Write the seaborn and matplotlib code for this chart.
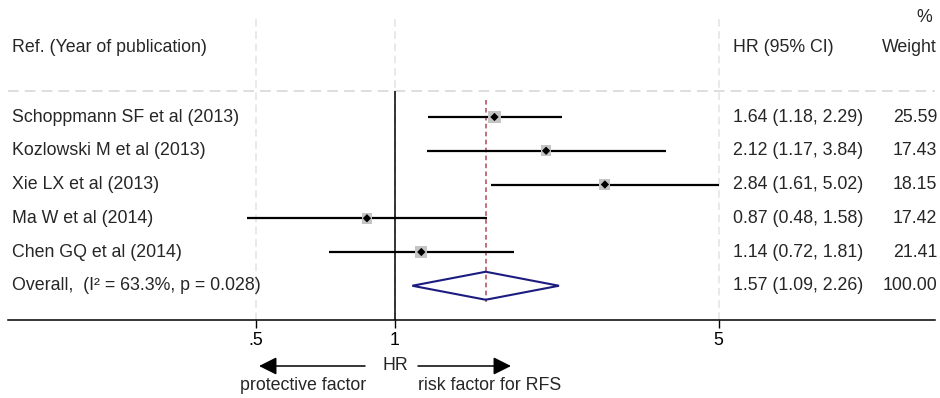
import matplotlib
matplotlib.use("Agg")
import matplotlib.pyplot as plt
import matplotlib.ticker as mticker
from matplotlib.patches import Polygon
import seaborn as sns
import pandas as pd

# ---- data ----
studies = ["Schoppmann SF et al (2013)", "Kozlowski M et al (2013)", "Xie LX et al (2013)",
           "Ma W et al (2014)", "Chen GQ et al (2014)"]
hr = [1.64, 2.12, 2.84, 0.87, 1.14]
ci_lo = [1.18, 1.17, 1.61, 0.48, 0.72]
ci_hi = [2.29, 3.84, 5.02, 1.58, 1.81]
weights = [25.59, 17.43, 18.15, 17.42, 21.41]
overall_hr = 1.57
overall_lo = 1.09
overall_hi = 2.26
overall_weight = 100.00
overall_label = "Overall,  (I\u00b2 = 63.3%, p = 0.028)"
xticks = [0.5, 1, 5]
xticklabels = [".5", "1", "5"]

sns.set_theme(style="white")
plt.rcParams["font.family"] = ["Liberation Sans", "DejaVu Sans"]
FS = 12.8

W, H = 940, 398
fig = plt.figure(figsize=(W / 100, H / 100), dpi=100)
ax = fig.add_axes([8 / W, 1 - 320 / H, 927 / W, (320 - 17) / H])
ax.set_xscale("log")
ax.set_xlim(0.146, 14.66)
ax.set_ylim(320, 17)

row_y = [117 + 33.75 * i for i in range(len(studies) + 1)]
df = pd.DataFrame({"study": studies, "hr": hr, "lo": ci_lo, "hi": ci_hi,
                   "w": weights, "y": row_y[:len(studies)]})

# grid-like dashed verticals
ax.xaxis.set_major_locator(mticker.FixedLocator(xticks))
ax.xaxis.set_minor_locator(mticker.NullLocator())
ax.set_xticklabels(xticklabels)
ax.grid(axis="x", color="#e3e3e3", linestyle=(0, (5, 3)), linewidth=1.1)
ax.grid(axis="y", visible=False)
ax.set_axisbelow(True)

# header separator
ax.axhline(91, color="#d4d4d4", linestyle=(0, (7, 4)), linewidth=1.1, zorder=1)
# null line
ax.vlines(1, 91, 320, color="black", linewidth=1.1, zorder=2)
# overall dashed line
ax.vlines(overall_hr, 100, 302, color="#b0475a", linestyle=(0, (3, 2.2)), linewidth=1.1, zorder=2)

# CI lines
ax.hlines(df["y"], df["lo"], df["hi"], color="black", linewidth=1.6, zorder=3)
# weight squares
sns.scatterplot(data=df, x="hr", y="y", size="w", sizes=(3.4 * min(weights), 3.4 * max(weights)),
                size_norm=(min(weights), max(weights)), marker="s", color="#c4c4c4",
                edgecolor="none", legend=False, ax=ax, zorder=4)
sns.scatterplot(data=df, x="hr", y="y", marker="D", color="black", s=18,
                edgecolor="none", legend=False, ax=ax, zorder=5)

# overall diamond
yo = row_y[-1]
dia = Polygon([(overall_lo, yo), (overall_hr, yo - 14), (overall_hi, yo), (overall_hr, yo + 14)],
              closed=True, facecolor="none", edgecolor="#1c1c80", linewidth=1.5, zorder=4)
ax.add_patch(dia)

# spines/ticks
for s in ["top", "left", "right"]:
    ax.spines[s].set_visible(False)
ax.spines["bottom"].set_color("black")
ax.spines["bottom"].set_linewidth(1.1)
ax.tick_params(axis="x", which="major", direction="out", length=6, width=1, color="black",
               pad=2.5, labelsize=FS, labelcolor="black", bottom=True)
ax.tick_params(axis="y", left=False, labelleft=False)
ax.set_xlabel("")
ax.set_ylabel("")

def fx(px):
    return (px - 8) / 927

tr = ax.get_yaxis_transform()  # x axes, y data
import matplotlib.transforms as mtrans
blend = mtrans.blended_transform_factory(ax.transAxes, ax.transData)

# header
ax.text(fx(12), 47, "Ref. (Year of publication)", transform=blend, ha="left", va="center", fontsize=FS)
ax.text(fx(733), 47, "HR (95% CI)", transform=blend, ha="left", va="center", fontsize=FS)
ax.text(fx(937), 47, "Weight", transform=blend, ha="right", va="center", fontsize=FS)
ax.text(fx(924), 17, "%", transform=blend, ha="center", va="center", fontsize=FS)

for i, r in df.iterrows():
    ax.text(fx(12), r["y"], r["study"], transform=blend, ha="left", va="center", fontsize=FS)
    ax.text(fx(733), r["y"], f"{r['hr']:.2f} ({r['lo']:.2f}, {r['hi']:.2f})", transform=blend,
            ha="left", va="center", fontsize=FS)
    ax.text(fx(937), r["y"], f"{r['w']:.2f}", transform=blend, ha="right", va="center", fontsize=FS)

ax.text(fx(12), yo, overall_label, transform=blend, ha="left", va="center", fontsize=FS)
ax.text(fx(733), yo, f"{overall_hr:.2f} ({overall_lo:.2f}, {overall_hi:.2f})", transform=blend,
        ha="left", va="center", fontsize=FS)
ax.text(fx(937), yo, f"{overall_weight:.2f}", transform=blend, ha="right", va="center", fontsize=FS)

# bottom annotation
def F(px, py):
    return (px / W, 1 - py / H)

fig.text(*F(395, 366), "HR", ha="center", va="center", fontsize=FS)
fig.text(*F(366, 386), "protective factor", ha="right", va="center", fontsize=FS)
fig.text(*F(418, 386), "risk factor for RFS", ha="left", va="center", fontsize=FS)
arrow = dict(arrowstyle="-|>,head_length=0.9,head_width=0.45", color="black", lw=1.1,
             shrinkA=0, shrinkB=0, mutation_scale=12)
ax.annotate("", xy=F(259, 366), xytext=F(365, 366), xycoords="figure fraction",
            textcoords="figure fraction", arrowprops=arrow, annotation_clip=False)
ax.annotate("", xy=F(511, 366), xytext=F(418, 366), xycoords="figure fraction",
            textcoords="figure fraction", arrowprops=arrow, annotation_clip=False)

fig.savefig("out.png", dpi=100, facecolor="white")
